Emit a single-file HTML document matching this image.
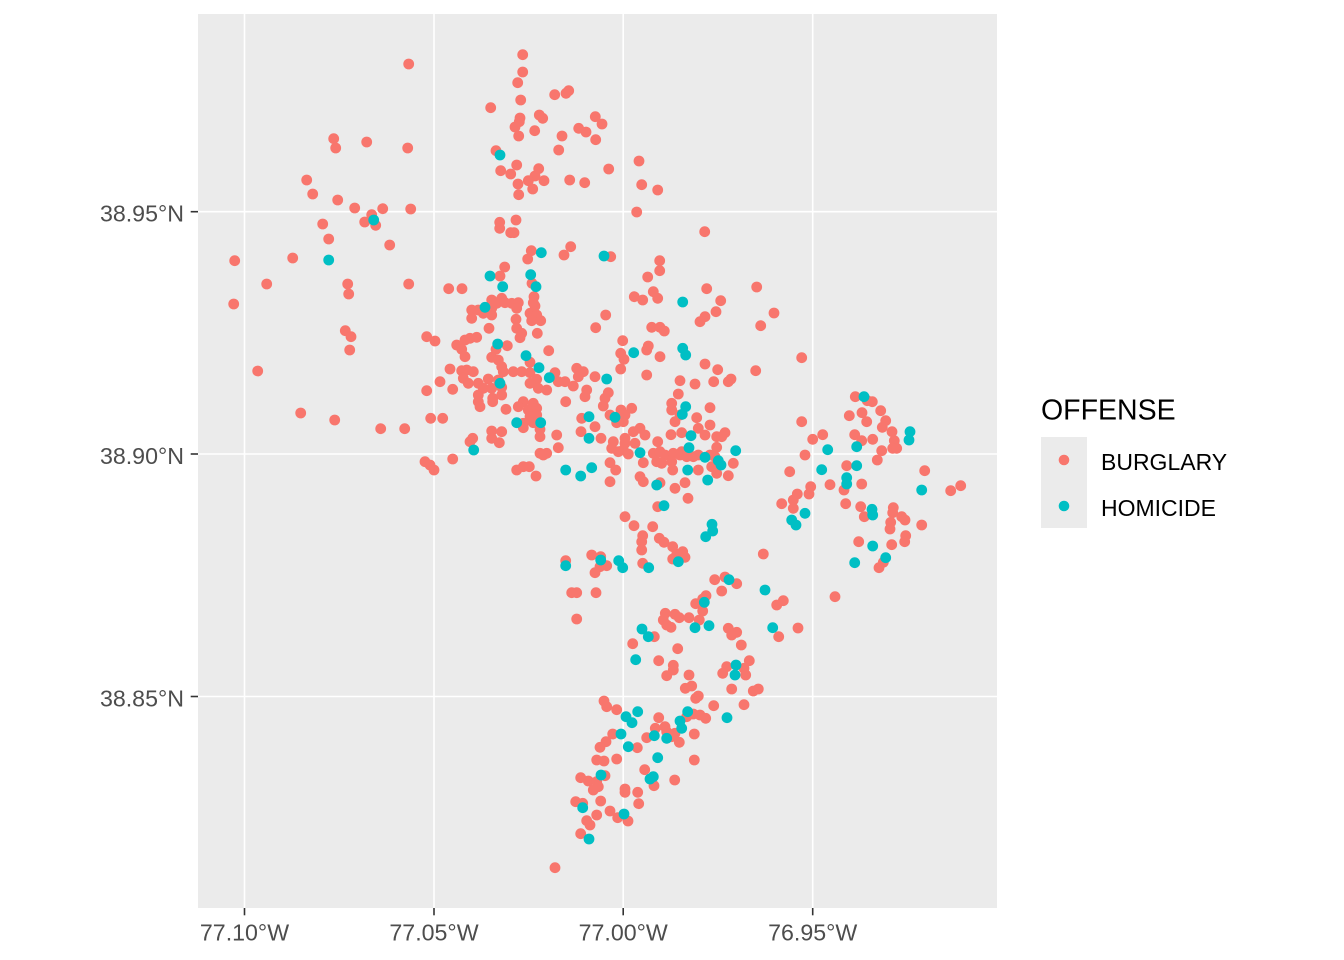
<!DOCTYPE html>
<html><head><meta charset="utf-8"><style>
html,body{margin:0;padding:0;background:#fff;}
svg{display:block;}
text{font-family:"Liberation Sans",Arial,sans-serif;}
</style></head><body>
<svg width="1344" height="960" viewBox="0 0 1344 960" xmlns="http://www.w3.org/2000/svg">
<rect x="0" y="0" width="1344" height="960" fill="#fff"/>
<rect x="198" y="14" width="799" height="894" fill="#EBEBEB"/>
<g stroke="#fff" stroke-width="1.6">
<line x1="244.5" y1="14" x2="244.5" y2="908"/>
<line x1="434" y1="14" x2="434" y2="908"/>
<line x1="623.2" y1="14" x2="623.2" y2="908"/>
<line x1="812.7" y1="14" x2="812.7" y2="908"/>
<line x1="198" y1="211.7" x2="997" y2="211.7"/>
<line x1="198" y1="454" x2="997" y2="454"/>
<line x1="198" y1="696.5" x2="997" y2="696.5"/>
</g>
<g stroke="#333" stroke-width="1.6">
<line x1="244.5" y1="908" x2="244.5" y2="915.3"/>
<line x1="434" y1="908" x2="434" y2="915.3"/>
<line x1="623.2" y1="908" x2="623.2" y2="915.3"/>
<line x1="812.7" y1="908" x2="812.7" y2="915.3"/>
<line x1="190.7" y1="211.7" x2="198" y2="211.7"/>
<line x1="190.7" y1="454" x2="198" y2="454"/>
<line x1="190.7" y1="696.5" x2="198" y2="696.5"/>
</g>
<g fill="#4D4D4D" font-size="23.2" text-anchor="middle">
<text x="244.5" y="940.5">77.10°W</text>
<text x="434" y="940.5">77.05°W</text>
<text x="623.2" y="940.5">77.00°W</text>
<text x="812.7" y="940.5">76.95°W</text>
</g>
<g fill="#4D4D4D" font-size="23.2" text-anchor="end">
<text x="184" y="221.7">38.95°N</text>
<text x="184" y="464">38.90°N</text>
<text x="184" y="706.5">38.85°N</text>
</g>
<g fill="#F8766D" id="b"></g>
<g fill="#00BFC4" id="h"></g>
<text x="1041" y="419.3" font-size="28.5" fill="#000">OFFENSE</text>
<rect x="1041" y="437" width="46" height="91" fill="#EBEBEB"/>
<circle cx="1064" cy="460" r="5.3" fill="#F8766D"/>
<circle cx="1064" cy="506" r="5.3" fill="#00BFC4"/>
<text x="1101" y="470" font-size="23" fill="#000">BURGLARY</text>
<text x="1101" y="516" font-size="23" fill="#000">HOMICIDE</text>
</svg>
<script>
var B=[408.7,64,333.7,138.7,335.7,148,366.7,142,407.7,148,306.7,180,312.7,194,337.7,200,354.7,208,382.7,208.7,410.7,209,371.7,214.7,364.7,222,375.7,225.3,322.7,224,328.7,239,389.7,245,234.7,260.7,292.7,258,266.7,284,347.7,284,348.7,294,408.7,284,448.7,288.7,462,288.7,233.7,304,345.3,330.7,351,336.7,349.7,350,257.7,371,300.7,413,334.7,420,380.7,428.7,404.7,428.7,
522.7,54.7,522.7,72,517.7,82.7,520.7,100,490.7,107.7,554.7,94.7,566,93.3,568.7,90.7,520,118,519.3,121.7,515,127,539.3,115,542.7,118.3,534.7,130.7,518.7,136,562,136,578.7,128.3,586,132,595.3,116.7,602,124,595.7,139.7,558.7,150,496,150.7,516.7,165,500.7,170.7,510.7,174,538.7,168.7,535,176,528.3,180.7,544,180.7,532.7,189,518,184,518.7,194.7,569.7,180,584.7,182.7,608.7,169,639,161,641.7,184.7,657.7,190,636.7,212,499.7,222.3,499.7,228.3,516,220,510.7,232.7,514,232.7,531.3,250.7,527.7,259,570.7,246.7,564,255,610.7,256.7,704.7,231.7,504.7,267,500,276,532,283.3,534,296.7,491.7,300,501.7,298.3,659.7,260.7,659.7,270.7,647.7,277,634.3,296.7,642.7,300,653.3,291.7,657.7,298.3,706.7,288.7,720.7,300.7,756.7,287,774,313,
471.7,310,478.3,310,471.7,318.3,483.3,313.3,491.7,308.3,491.7,315,496.7,303.3,505,302.7,511.7,303.3,518.3,302.7,516.7,308.3,533.3,302.7,535,306,530,313.3,536.7,315,531.7,320.7,540.7,320.7,516,319.3,489,328.3,516.7,328.3,521.7,333.3,520,337.7,537.3,333.3,595.7,327.7,426.7,336.7,435,341,456.7,345,465,340,470,338.3,476.7,337.3,461.7,349.3,465,356.7,507.3,345.7,496,349.3,491.7,357.3,498.3,360,530,362.3,548.7,350.7,450,369,461.7,370.7,466.7,370,473.3,371.7,501.7,366.7,503.3,371.7,513.3,371.7,521.7,371.7,530,372.7,536.7,379.3,555,372.7,576.7,368.3,583.3,371.7,578.3,376.7,595,376.7,440,381.7,426.7,390.7,452.7,389.3,463.3,378.3,468.3,383.3,478.3,383.3,488.3,379,498.3,380,501.7,387.3,483.3,388.3,491.7,388.3,530,383.3,538.3,388.3,546.7,390,558.3,381.7,565,381.7,573.3,386,586.7,390,585,396.7,478.3,395,478.3,401.7,480,406.7,492.7,398.3,492.7,401.7,501.7,395,506,409.3,565.7,401.7,523.3,401.7,518.3,406.7,533.3,403.3,528.3,410,536.7,408.3,530,416.7,536.7,415,523.3,423.3,533.3,422.7,523.3,427.7,540,429.3,540,436.7,556.7,435,558.3,447.7,430.7,418.3,442.7,418.3,491.7,431,501.7,431.7,491.7,438.3,499.3,442.7,472.7,438.3,470,441.7,581.7,418.3,595,426.7,581,431.7,540,453.3,546.7,453.3,543.3,455,425,461.7,430,465,434,470,452.7,459,516.7,470,523.3,466.7,529.3,466.7,536,476,
716,311.7,705,316.7,700,321.7,605.7,315,760.7,325.7,651.7,327.3,660,327.3,664.3,331,622.7,340.7,620.7,353.3,624,359.3,648.3,346,646.7,350,660,356.7,705,364,717.7,369.7,755.7,370.7,620.7,369,646.7,375,680,380.7,695,384,713.7,381.7,728.3,381.7,731,379,608.3,392.7,605,398.3,603.3,406,678.3,394,671.7,403.3,671.7,410,680,415,675,421.7,710,407.7,696.7,417.7,621,410,625,415,631.7,408.3,610,415,616.7,422.7,623.3,421.7,601,438.3,640,428.3,633.3,431.7,645,435,625,438.3,613.3,441.7,611.7,448.3,625,443.3,635,443.3,618.3,451.7,628.3,454,623.3,450,671,434.7,681.7,432.7,698.3,428.3,710,425,705,435,716.7,436.7,725,432.7,721.7,436.7,657.7,441.7,716.7,447.3,643.3,462.7,653.3,453.3,660,451.7,665,455,673.3,453.3,681.7,451.7,656.7,461.7,661.7,463.3,671.7,461.7,680,455,686.7,456.7,693.3,456.7,698.3,455,710,455,715,456.7,711.7,466.7,716.7,473.3,728.3,475.7,733.3,463.3,672.7,470,698.3,470,610,462.7,615.7,470,610,481.7,640,476.7,643.3,481.7,660,482.7,675,488.3,685,482.7,
801.7,357.7,855.3,396.7,867.3,400.7,872.3,401.7,880.7,410.7,862,412.7,849.3,415.7,866.7,421.7,885.7,420.7,882.3,427.3,892,431.7,801.7,421.7,822.7,434.7,812.7,439.3,854.7,434.7,861.7,440.7,872.7,439.3,894.3,440.7,892.7,448.3,896.7,448.3,881.7,450.7,877.3,460,805,455,789.7,471.7,846.7,465.7,844,490,861.7,484,830,484.7,810.7,486.7,809,494,797.3,494,793.3,500,781.7,503.7,793.3,508.3,845.7,503.7,924.7,470.7,950.7,490.7,960.7,485.7,860.7,506.7,864.3,516.7,893.3,507.7,892.7,512.7,901.7,516.7,905,520,890.7,522.3,890,529,921.7,525,905.7,535.7,904.7,541.7,891.7,544.7,858.7,541.7,883.3,562.3,879,567.7,763.3,554,835,596.7,783.3,600.7,776.7,605,798,628,
688,498.3,657.7,506.7,625,516.7,634,525.7,652.7,526.7,642.7,535.7,641.7,541.7,641.7,550,659.3,538.3,664,542.3,672.7,546.7,682.7,551.7,676.7,554.3,672.7,559,685,557.3,642.7,563.3,591.7,555,600.7,556.7,606.7,565.7,600,566.7,595,572.7,565.7,560.7,571.7,592.7,576.7,592.7,596,592.7,576.7,619,714.7,579.7,725,577,736.7,583.7,721.7,591,706,595.7,702.7,599,695.7,603.7,702.7,611,665.3,613.3,663.3,620,675,614.3,679.3,617.7,689,617.7,699.3,620,666.7,625,671,627.3,654.3,636.7,632.7,643.7,677.7,648.7,728.3,628.3,736.7,632.3,731.7,635,741.3,645,778.7,636.7,658.7,660.7,673.3,665.3,673.3,670,666.7,675.7,689,675,726.7,666.7,722.7,673.3,744,668.3,745.7,675,749.3,660.7,
685.3,688.3,691.7,686,731.7,689,753.3,691,758.3,689,604,701,606.7,706.7,616.7,709.7,658.7,717.7,686.7,716.7,693.3,714,700,715,705.7,718.3,695.7,698.3,698.3,696,713.7,705.7,744,704.7,655.3,728.3,665,726.7,666.7,731.7,646.7,737.7,675,733.3,671.7,736.7,679.3,742.3,694.3,734,612.7,734,606,741.7,600,747.3,637.3,747.7,694.3,760,596.7,760,604,761,616.7,759,644.7,769.7,654,785.7,674.7,780,580.7,777.7,588.3,781,605,775.7,596.7,781.7,598.3,786.7,593.3,790,625,789,625,792.3,637.7,792.3,638.7,803.7,575.7,801.7,582.7,803.3,600.7,801,610,811,596.7,815,617.7,817.7,628,821,586.7,820.7,590,825,580.7,833.7,555,867.7];
var H=[373.7,220,328.7,260,500,155,541.3,252.7,604,256,490,276,530.7,274.7,536,286.7,502.7,286.7,682.7,302,
485,307.3,497.7,344,526,355.7,539,367.7,549.3,377.7,500,383.3,516.7,422.7,540.7,422.7,473.7,450,589,416.7,589,438.3,565.7,470,580.7,476,591.7,467.7,
606.7,379,633.7,352.7,682.7,348.3,685.7,355,685.7,406.7,682.3,414.3,615,417.3,691,435.7,689,447.7,735.7,450.7,640,452.7,705,457.3,718.3,460.7,721,465,687.7,470,707.7,480,656.7,485,
864,396.7,910,431.7,909,440,856.7,446.7,827.7,449.7,821.7,469.7,856.7,465.7,846.7,477.7,846.7,484,921.7,490,805,513.3,791.7,520,796,525,872,509.3,872.7,515,872.7,546,885.7,557.7,854.7,562.7,765,590,
664,505.7,712,524.3,712.7,531,705.7,536.7,678.3,561.7,648.7,567.7,600.7,560,565.7,565.7,618.7,560.7,622.7,567.7,729,579.7,704.3,602.3,695,627.7,709,625.7,642,629,648.3,636.7,772.7,627.7,635.7,659.7,736,665,735,675,
637.7,711.7,626,716.7,632,722.7,687.7,711.7,727,717.7,680,721,681.7,728.3,654.3,735.7,666.7,738.3,621,734,628.3,746.7,657.7,757.7,650,779,653.3,776.7,601,775,582.7,807.7,624,814,589,839];
function draw(arr,id){var g=document.getElementById(id),ns="http://www.w3.org/2000/svg";for(var i=0;i<arr.length;i+=2){var c=document.createElementNS(ns,"circle");c.setAttribute("cx",arr[i]);c.setAttribute("cy",arr[i+1]);c.setAttribute("r","5.4");g.appendChild(c);}}
draw(B,"b");draw(H,"h");
</script>
</body></html>
